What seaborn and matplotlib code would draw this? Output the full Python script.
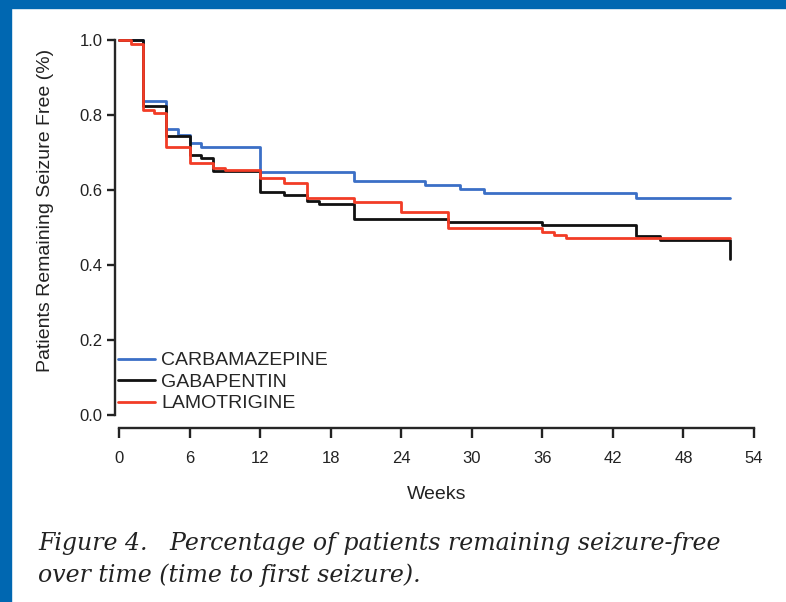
import pandas as pd
import matplotlib.pyplot as plt
import seaborn as sns
from matplotlib.patches import Rectangle

sns.set_style("ticks")
plt.rcParams['font.family'] = ['Liberation Sans', 'DejaVu Sans']

# Kaplan-Meier style step data (weeks, fraction seizure-free)
carba_weeks = [0, 2, 4, 5, 6, 7, 12, 20, 26, 29, 31, 44, 52]
carba_surv = [1.0, 0.837, 0.763, 0.747, 0.725, 0.715, 0.648, 0.625, 0.613, 0.604, 0.592, 0.579, 0.579]

gaba_weeks = [0, 2, 4, 6, 7, 8, 12, 14, 16, 17, 20, 28, 36, 44, 46, 52]
gaba_surv = [1.0, 0.824, 0.745, 0.693, 0.685, 0.650, 0.595, 0.586, 0.572, 0.563, 0.523, 0.516, 0.508, 0.477, 0.467, 0.416]

lamo_weeks = [0, 1, 2, 3, 4, 6, 8, 9, 12, 14, 16, 20, 24, 28, 36, 37, 38, 52]
lamo_surv = [1.0, 0.99, 0.813, 0.805, 0.715, 0.672, 0.658, 0.654, 0.631, 0.618, 0.580, 0.569, 0.542, 0.499, 0.488, 0.480, 0.472, 0.472]

drugs = ['CARBAMAZEPINE', 'GABAPENTIN', 'LAMOTRIGINE']
colors = ['#3b6fc6', '#111111', '#f23c26']

df = pd.concat([
    pd.DataFrame({'week': carba_weeks, 'surv': carba_surv, 'drug': drugs[0]}),
    pd.DataFrame({'week': gaba_weeks, 'surv': gaba_surv, 'drug': drugs[1]}),
    pd.DataFrame({'week': lamo_weeks, 'surv': lamo_surv, 'drug': drugs[2]}),
])

fig = plt.figure(figsize=(7.86, 6.02), dpi=100)
ax = fig.add_axes([119 / 786, 187 / 602, 635 / 786, 375 / 602])

sns.lineplot(data=df, x='week', y='surv', hue='drug', hue_order=drugs,
             palette=colors, estimator=None, drawstyle='steps-post',
             linewidth=2.0, clip_on=False, ax=ax)

ax.set_xlim(0, 54)
ax.set_ylim(0, 1)
ax.set_xticks(range(0, 55, 6))
ax.set_yticks([0, 0.2, 0.4, 0.6, 0.8, 1.0])
ax.set_yticklabels(['0.0', '0.2', '0.4', '0.6', '0.8', '1.0'])

ax.spines['top'].set_visible(False)
ax.spines['right'].set_visible(False)
ax.spines['left'].set_position(('outward', 3))
ax.spines['bottom'].set_position(('outward', 9))
ax.spines['left'].set_bounds(0, 1)
ax.spines['bottom'].set_bounds(0, 54)
for s in ['left', 'bottom']:
    ax.spines[s].set_linewidth(1.7)
ax.tick_params(length=6, width=1.7, labelsize=12, colors='#222222', pad=3)
ax.tick_params(axis='x', length=7, pad=10)

ax.set_xlabel('Weeks', fontsize=14, color='#222222')
ax.set_ylabel('Patients Remaining Seizure Free (%)', fontsize=14, color='#222222')
ax.xaxis.set_label_coords(0.501, -0.19)
ax.yaxis.set_label_coords(-0.103, 0.545)

leg = ax.legend(loc='upper left', bbox_to_anchor=(108 / 786, 1 - 342 / 602),
                bbox_transform=fig.transFigure, frameon=False, fontsize=14,
                borderpad=0, handlelength=1.9, handletextpad=0.35,
                labelspacing=0.2)
for line in leg.get_lines():
    line.set_linewidth(2.0)

# blue page border
fig.add_artist(Rectangle((0, 1 - 8 / 602), 1, 8 / 602, transform=fig.transFigure,
                         color='#0067b1', zorder=10))
fig.add_artist(Rectangle((0, 0), 11 / 786, 1, transform=fig.transFigure,
                         color='#0067b1', zorder=10))

cap_kw = dict(family='DejaVu Serif', style='italic', fontsize=17,
              va='baseline', ha='left', color='#222222')
fig.text(38 / 786, 1 - 550 / 602,
         'Figure 4.   Percentage of patients remaining seizure-free', **cap_kw)
fig.text(38 / 786, 1 - 582 / 602, 'over time (time to first seizure).', **cap_kw)

fig.savefig('out.png', dpi=100)
